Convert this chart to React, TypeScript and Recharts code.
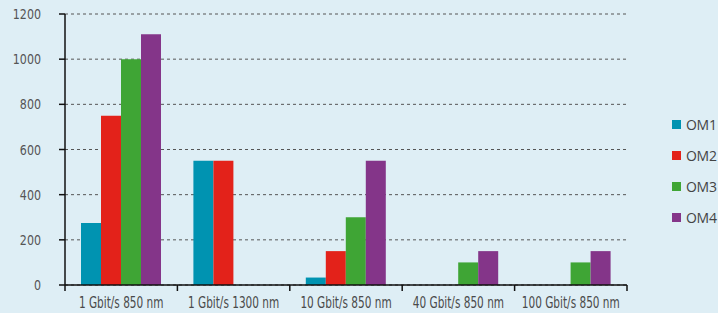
import React from "react";
import { Bar, BarChart, CartesianGrid, XAxis, YAxis } from "recharts";

const categories = [
  "1 Gbit/s 850 nm",
  "1 Gbit/s 1300 nm",
  "10 Gbit/s 850 nm",
  "40 Gbit/s 850 nm",
  "100 Gbit/s 850 nm",
];
const om1 = [275, 550, 33, null, null];
const om2 = [750, 550, 150, null, null];
const om3 = [1000, null, 300, 100, 100];
const om4 = [1110, null, 550, 150, 150];
const yTicks = [0, 200, 400, 600, 800, 1000, 1200];

const series = [
  { key: "OM1", values: om1, color: "#0093b1" },
  { key: "OM2", values: om2, color: "#e3221a" },
  { key: "OM3", values: om3, color: "#3fa535" },
  { key: "OM4", values: om4, color: "#843589" },
];

const W = 718;
const H = 313;
const M = { top: 14, right: 91, left: 0, bottom: 0 };
const Y_W = 65;
const STEP = (W - M.left - M.right - Y_W) / categories.length;

const data = categories.map((name, i) => {
  const row: Record<string, string | number | null> = { name };
  series.forEach((s) => (row[s.key] = s.values[i]));
  return row;
});

const font = "'DejaVu Sans Condensed', 'DejaVu Sans', sans-serif";

function CatTick(props: any) {
  const { x, y, payload, index } = props;
  const axisY = y - 8;
  return (
    <g>
      <line x1={x - STEP / 2} x2={x - STEP / 2} y1={axisY} y2={axisY + 6} stroke="#111" strokeWidth={1.5} />
      {index === categories.length - 1 && (
        <line x1={x + STEP / 2} x2={x + STEP / 2} y1={axisY} y2={axisY + 6} stroke="#111" strokeWidth={1.5} />
      )}
      <g transform={`translate(${x},${y + 15}) scale(0.78,1)`}>
        <text
          x={0}
          y={0}
          textAnchor="middle"
          fill="#4a4a4a"
          fontSize={15}
          fontFamily={font}
          style={{ fontStretch: "condensed" }}
        >
          {payload.value}
        </text>
      </g>
    </g>
  );
}

function NumTick(props: any) {
  const { x, y, payload } = props;
  return (
    <g transform={`translate(${x},${y + 5}) scale(0.88,1)`}>
      <text
        x={0}
        y={0}
        textAnchor="end"
        fill="#555"
        fontSize={14}
        fontFamily={font}
        style={{ fontStretch: "condensed" }}
      >
        {payload.value}
      </text>
    </g>
  );
}

export default function App() {
  return (
    <div
      style={{
        position: "absolute",
        left: 0,
        top: 0,
        width: W,
        height: H,
        background: "#deeef5",
        overflow: "hidden",
      }}
    >
      <BarChart width={W} height={H} data={data} margin={M} barGap={0} barCategoryGap={16}>
        <CartesianGrid vertical={false} stroke="#555" strokeDasharray="3 3" />
        <XAxis
          dataKey="name"
          height={28}
          axisLine={{ stroke: "#111", strokeWidth: 1.5 }}
          tickLine={false}
          tick={<CatTick />}
          interval={0}
        />
        <YAxis
          width={Y_W}
          domain={[0, 1200]}
          ticks={yTicks}
          axisLine={{ stroke: "#111", strokeWidth: 1.5 }}
          tickLine={{ stroke: "#111", strokeWidth: 1.5 }}
          tickSize={6}
          tickMargin={18}
          tick={<NumTick />}
        />
        {series.map((s) => (
          <Bar key={s.key} dataKey={s.key} fill={s.color} isAnimationActive={false} />
        ))}
      </BarChart>
      <div style={{ position: "absolute", left: 672, top: 109 }}>
        {series.map((s) => (
          <div
            key={s.key}
            style={{
              display: "flex",
              alignItems: "center",
              height: 31,
              fontFamily: "'Open Sans', sans-serif",
              fontSize: 14,
              letterSpacing: -0.3,
              color: "#444",
              whiteSpace: "nowrap",
            }}
          >
            <span style={{ width: 9, height: 9, background: s.color, marginRight: 5, flexShrink: 0 }} />
            {s.key}
          </div>
        ))}
      </div>
    </div>
  );
}
